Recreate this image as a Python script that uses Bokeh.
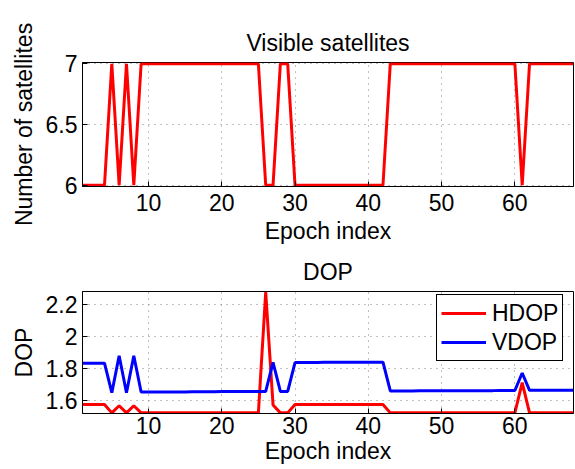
from bokeh.plotting import figure
from bokeh.layouts import column
from bokeh.models import FixedTicker, CustomJSTickFormatter, Range1d
from bokeh.embed import file_html
from bokeh.resources import INLINE

epochs = list(range(1, 69))

satellites = [6, 6, 6, 6, 7, 6, 7, 6, 7, 7, 7, 7, 7, 7, 7, 7, 7, 7, 7, 7, 7, 7, 7, 7, 7,
              6, 6, 7, 7, 6, 6, 6, 6, 6, 6, 6, 6, 6, 6, 6, 6, 6, 7, 7, 7, 7, 7, 7, 7, 7,
              7, 7, 7, 7, 7, 7, 7, 7, 7, 7, 6, 7, 7, 7, 7, 7, 7, 7]

hdop = [1.573, 1.573, 1.573, 1.573, 1.52, 1.565, 1.52, 1.565, 1.52, 1.52, 1.52, 1.52, 1.52,
        1.52, 1.52, 1.52, 1.52, 1.52, 1.52, 1.52, 1.52, 1.52, 1.52, 1.52, 1.52,
        2.28, 1.57, 1.52, 1.52, 1.573, 1.573, 1.573, 1.573, 1.573, 1.573, 1.573, 1.573,
        1.573, 1.573, 1.573, 1.573, 1.573, 1.52, 1.52, 1.52, 1.52, 1.52, 1.52, 1.52, 1.52,
        1.52, 1.52, 1.52, 1.52, 1.52, 1.52, 1.52, 1.52, 1.52, 1.52, 1.71, 1.52, 1.52,
        1.52, 1.52, 1.52, 1.52, 1.52]

vdop = [1.833, 1.833, 1.833, 1.833, 1.647, 1.88, 1.647, 1.88, 1.651, 1.651, 1.651, 1.652,
        1.652, 1.652, 1.652, 1.653, 1.653, 1.653, 1.653, 1.654, 1.654, 1.654, 1.654, 1.655,
        1.655, 1.655, 1.838, 1.655, 1.655, 1.837, 1.837, 1.837, 1.837, 1.838, 1.838, 1.838,
        1.838, 1.838, 1.839, 1.839, 1.839, 1.839, 1.658, 1.658, 1.658, 1.658, 1.659, 1.659,
        1.659, 1.659, 1.659, 1.66, 1.66, 1.66, 1.66, 1.66, 1.66, 1.661, 1.661, 1.661, 1.771,
        1.662, 1.662, 1.662, 1.662, 1.662, 1.662, 1.662]

x_ticks = [10, 20, 30, 40, 50, 60]
sat_ticks = [6, 6.5, 7]
dop_ticks = [1.6, 1.8, 2.0, 2.2]

FONT = "Liberation Sans"
FS = "23px"


def style(p, yticks):
    p.outline_line_color = "black"
    p.outline_line_width = 1
    p.outline_line_alpha = 1
    p.background_fill_color = "white"
    p.border_fill_color = "white"
    for ax in (p.xaxis[0], p.yaxis[0]):
        ax.major_tick_in = 5
        ax.major_tick_out = 0
        ax.minor_tick_line_color = None
        ax.axis_line_color = "black"
        ax.major_tick_line_color = "black"
        ax.major_label_text_font = FONT
        ax.major_label_text_font_size = FS
        ax.major_label_text_color = "black"
        ax.axis_label_text_font = FONT
        ax.axis_label_text_font_size = FS
        ax.axis_label_text_font_style = "normal"
        ax.axis_label_text_color = "black"
    p.xaxis[0].ticker = FixedTicker(ticks=x_ticks)
    p.yaxis[0].ticker = FixedTicker(ticks=yticks)
    p.yaxis[0].formatter = CustomJSTickFormatter(code="return String(Math.round(tick*10)/10);")
    p.xaxis[0].major_label_standoff = 7
    p.yaxis[0].major_label_standoff = 5
    p.xaxis[0].axis_label_standoff = 4
    p.yaxis[0].axis_label_standoff = 6
    for g in (p.xgrid[0], p.ygrid[0]):
        g.grid_line_color = "#808080"
        g.grid_line_dash = "1 5"
        g.grid_line_width = 1
    p.title.align = "center"
    p.title.text_font = FONT
    p.title.text_font_size = FS
    p.title.text_font_style = "normal"
    p.title.text_color = "black"
    p.title.standoff = 14


p1 = figure(width=575, height=250, output_backend="svg", toolbar_location=None,
            title="Visible satellites", x_range=Range1d(1, 68), y_range=Range1d(5.99, 7.01),
            x_axis_label="Epoch index", y_axis_label="Number of satellites",
            min_border_left=82, min_border_right=2, min_border_top=62, min_border_bottom=64)
style(p1, sat_ticks)
p1.line(epochs, satellites, line_color="#ff0000", line_width=3)

p2 = figure(width=575, height=219, output_backend="svg", toolbar_location=None,
            title="DOP", x_range=Range1d(1, 68), y_range=Range1d(1.516, 2.284),
            x_axis_label="Epoch index", y_axis_label="DOP",
            min_border_left=82, min_border_right=2, min_border_top=39, min_border_bottom=56)
style(p2, dop_ticks)
p2.title.standoff = 13
p2.xaxis[0].major_label_standoff = 3
p2.xaxis[0].axis_label_standoff = 1
p2.line(epochs, hdop, line_color="#ff0000", line_width=3, legend_label="HDOP")
p2.line(epochs, vdop, line_color="#0000ff", line_width=3, legend_label="VDOP")
lg = p2.legend[0]
lg.location = (354, 52)
lg.border_line_color = "black"
lg.border_line_width = 1
lg.border_line_alpha = 1
lg.background_fill_color = "white"
lg.background_fill_alpha = 1
lg.label_text_font = FONT
lg.label_text_font_size = FS
lg.label_text_color = "black"
lg.glyph_width = 45
lg.glyph_height = 28
lg.label_height = 28
lg.label_standoff = 6
lg.padding = 4
lg.spacing = 1
lg.margin = 0

layout = column(p1, p2, spacing=0)
open("out.html", "w").write(file_html(layout, INLINE))
